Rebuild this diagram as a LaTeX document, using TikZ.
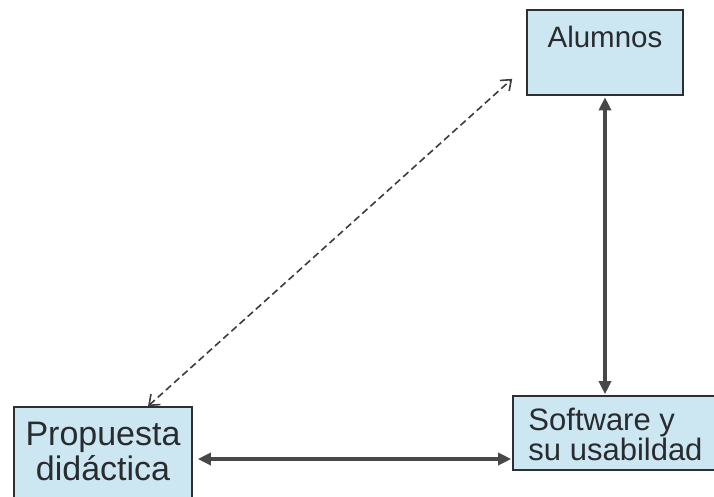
\documentclass[tikz,border=0pt]{standalone}
\usepackage{fontspec}
\setmainfont{Liberation Sans}
\definecolor{boxblue}{RGB}{204,231,242}
\definecolor{boxline}{RGB}{45,48,50}
\definecolor{arrowgray}{RGB}{72,72,72}
\definecolor{labeltext}{RGB}{40,44,46}
\usetikzlibrary{arrows.meta,calc}

\begin{document}
\begin{tikzpicture}[
            x=1pt, y=-1pt,
            every node/.style={text=labeltext},
            block/.style={rectangle, draw=boxline, fill=boxblue, line width=1.6pt, inner xsep=0pt},
            link/.style={{Triangle[length=13pt,width=12pt]}-{Triangle[length=13pt,width=12pt]},
                         line width=3.5pt, draw=arrowgray},
            weaklink/.style={{Straight Barb[length=9pt,width=14pt]}-{Straight Barb[length=9pt,width=14pt]},
                             dash pattern=on 7pt off 4pt, line width=1.6pt, draw=arrowgray!85!black}
        ]

        \useasboundingbox (0,0) rectangle (714,496);
        \fill[white] (0,0) rectangle (714,496);

        \node[block, minimum width=156pt, inner ysep=16pt, text height=21pt, text depth=32pt,
              font=\fontsize{29.5}{31}\selectfont] (alumnos) at (605,52.5) {Alumnos};
        \node[block, minimum width=178pt, inner ysep=14pt, text height=59pt, text depth=17pt,
              align=center, font=\fontsize{34}{35}\selectfont] (propuesta) at (103,459) {Propuesta\\didáctica};
        \node[block, minimum width=205pt, inner ysep=9.5pt, text height=55pt, text depth=0pt,
              align=left, font=\fontsize{31}{28}\selectfont] (software) at (615.5,433) {Software y\\su usabildad};

        \draw[link, shorten >=1pt, shorten <=1.5pt] (alumnos.south) -- (alumnos.south |- software.north);
        \draw[link, shorten <=5pt, shorten >=1pt] (propuesta.east) -- (propuesta.east -| software.west);
        \draw[weaklink] ([xshift=45pt]propuesta.north) -- ([xshift=-14pt,yshift=17pt]alumnos.south west);

        \end{tikzpicture}
\end{document}
